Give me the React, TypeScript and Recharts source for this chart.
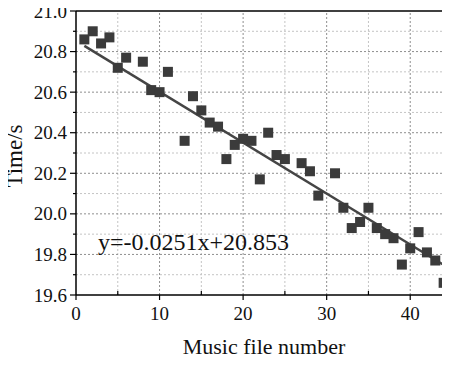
import { ReferenceLine, Scatter, ScatterChart, XAxis, YAxis } from 'recharts'

// measured playback time per music file
const fileNumbers = [
  1, 2, 3, 4, 5, 6, 8, 9, 10, 11, 13, 14, 15, 16, 17, 18, 19, 20, 21, 22, 23,
  24, 25, 27, 28, 29, 31, 32, 33, 34, 35, 36, 37, 38, 39, 40, 41, 42, 43, 44,
]
const times = [
  20.86, 20.9, 20.84, 20.87, 20.72, 20.77, 20.75, 20.61, 20.6, 20.7, 20.36,
  20.58, 20.51, 20.45, 20.43, 20.27, 20.34, 20.37, 20.36, 20.17, 20.4, 20.29,
  20.27, 20.25, 20.21, 20.09, 20.2, 20.03, 19.93, 19.96, 20.03, 19.93, 19.9,
  19.88, 19.75, 19.83, 19.91, 19.81, 19.77, 19.66,
]

// fitted line y = slope * x + intercept
const slope = -0.0251
const intercept = 20.853
const fitRange = [1, 45]

const xTicks = [0, 5, 10, 15, 20, 25, 30, 35, 40, 45]
const yTicks = [
  19.6, 19.7, 19.8, 19.9, 20.0, 20.1, 20.2, 20.3, 20.4, 20.5, 20.6, 20.7, 20.8,
  20.9, 21.0,
]

const points = fileNumbers.map((x, i) => ({ x, y: times[i] }))
const serif = { fontFamily: '"Liberation Serif", "Times New Roman", serif' }

const isMajorY = (v: number) => Math.round(v * 10) % 2 === 0
const isMajorX = (v: number) => v % 10 === 0

const YTick = (props: any) => {
  const { x, y, payload } = props
  const major = isMajorY(payload.value)
  return (
    <g>
      <line x1={x - (major ? 6 : 3)} x2={x} y1={y} y2={y} stroke='#000' strokeWidth={1.2} />
      {major && (
        <text x={x - 9} y={y + 6.5} textAnchor='end' fontSize={19} style={serif} fill='#111'>
          {payload.value.toFixed(1)}
        </text>
      )}
    </g>
  )
}

const XTick = (props: any) => {
  const { x, y, payload } = props
  const major = isMajorX(payload.value)
  return (
    <g>
      <line x1={x} x2={x} y1={major ? y : y - 4} y2={major ? y + 5 : y} stroke='#000' strokeWidth={1.2} />
      {major && payload.value < 45 && (
        <text x={x} y={y + 25} textAnchor='middle' fontSize={19} style={serif} fill='#111'>
          {payload.value}
        </text>
      )}
    </g>
  )
}

const Square = (props: any) => {
  const { cx, cy } = props
  return <rect x={cx - 5} y={cy - 5} width={10} height={10} fill='#3b3b3b' />
}

export default function App() {
  return (
    <div style={{ margin: -8, width: 450, height: 365, overflow: 'hidden', background: '#fff', position: 'relative' }}>
      <ScatterChart width={452} height={365} margin={{ top: 11, right: 0, bottom: 0, left: 0 }}>
        {/* minor grid */}
        {xTicks.filter((v) => !isMajorX(v)).map((v) => (
          <ReferenceLine key={'mx' + v} x={v} stroke='#c4c4c4' strokeDasharray='2 2' />
        ))}
        {yTicks.filter((v) => !isMajorY(v)).map((v) => (
          <ReferenceLine key={'my' + v} y={v} stroke='#c4c4c4' strokeDasharray='2 2' />
        ))}
        {/* major grid */}
        {xTicks.filter((v) => isMajorX(v) && v > 0 && v < 45).map((v) => (
          <ReferenceLine key={'Mx' + v} x={v} stroke='#8e8e8e' strokeDasharray='2 2' />
        ))}
        {yTicks.filter((v) => isMajorY(v) && v > 19.6 && v < 21).map((v) => (
          <ReferenceLine key={'My' + v} y={v} stroke='#8e8e8e' strokeDasharray='2 2' />
        ))}
        <ReferenceLine y={21} stroke='#000' strokeWidth={1.5} />
        <XAxis
          type='number'
          dataKey='x'
          domain={[0, 45]}
          ticks={xTicks}
          interval={0}
          tickSize={0}
          tickMargin={0}
          tick={<XTick />}
          height={70}
          axisLine={{ stroke: '#000', strokeWidth: 1.5 }}
        />
        <YAxis
          type='number'
          dataKey='y'
          domain={[19.6, 21.0]}
          ticks={yTicks}
          interval={0}
          allowDataOverflow
          tickSize={0}
          tickMargin={0}
          tick={<YTick />}
          width={76}
          axisLine={{ stroke: '#000', strokeWidth: 1.5 }}
        />
        <ReferenceLine
          segment={fitRange.map((x) => ({ x, y: slope * x + intercept }))}
          stroke='#454545'
          strokeWidth={2.5}
          ifOverflow='visible'
        />
        <Scatter data={points} shape={<Square />} isAnimationActive={false} />
      </ScatterChart>
      <svg width={450} height={365} style={{ position: 'absolute', left: 0, top: 0, pointerEvents: 'none' }}>
        <text x={98} y={250} fontSize={24} style={serif} fill='#111'>
          {`y=${slope}x+${intercept}`}
        </text>
        <text x={264} y={354} textAnchor='middle' fontSize={22} style={serif} fill='#111'>
          Music file number
        </text>
        <text
          x={22}
          y={156}
          textAnchor='middle'
          fontSize={23}
          style={serif}
          fill='#111'
          transform='rotate(-90 22 156)'
        >
          Time/s
        </text>
      </svg>
    </div>
  )
}
